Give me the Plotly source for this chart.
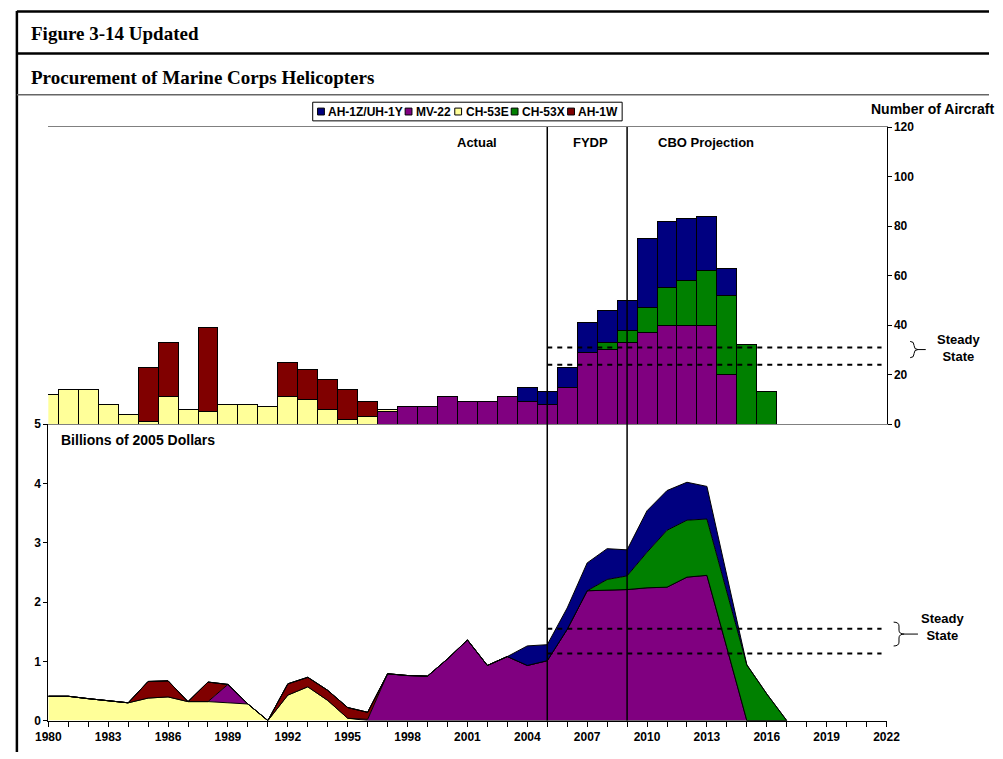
import plotly.graph_objects as go

# ---- data ----
years_top = list(range(1980, 2017))
mv22_units = [0, 0, 0, 0, 0, 0, 0, 0, 0, 0, 0, 0, 0, 0, 0, 0, 0,
              5, 7, 7, 11, 9, 9, 11, 9, 8, 15, 29, 30, 33, 37, 40, 40, 40, 20, 0, 0]
ch53e_units = [12, 14, 14, 8, 4, 1, 11, 6, 5, 8, 8, 7, 11, 10, 6, 2, 3,
               1, 0, 0, 0, 0, 0, 0, 0, 0, 0, 0, 0, 0, 0, 0, 0, 0, 0, 0, 0]
ah1w_units = [0, 0, 0, 0, 0, 22, 22, 0, 34, 0, 0, 0, 14, 12, 12, 12, 6,
              0, 0, 0, 0, 0, 0, 0, 0, 0, 0, 0, 0, 0, 0, 0, 0, 0, 0, 0, 0]
ch53x_units = [0, 0, 0, 0, 0, 0, 0, 0, 0, 0, 0, 0, 0, 0, 0, 0, 0,
               0, 0, 0, 0, 0, 0, 0, 0, 0, 0, 0, 3, 5, 10, 15, 18, 22, 32, 32, 13]
ah1z_units = [0, 0, 0, 0, 0, 0, 0, 0, 0, 0, 0, 0, 0, 0, 0, 0, 0,
              0, 0, 0, 0, 0, 0, 0, 6, 5, 8, 12, 13, 12, 28, 27, 25, 22, 11, 0, 0]

years_cost = list(range(1980, 2018))
ch53e_cost = [0.41, 0.41, 0.37, 0.34, 0.30, 0.38, 0.40, 0.32, 0.32, 0.30, 0.28, 0, 0.43, 0.57, 0.34, 0.04, 0,
              0, 0, 0, 0, 0, 0, 0, 0, 0, 0, 0, 0, 0, 0, 0, 0, 0, 0, 0, 0, 0]
mv22_cost = [0, 0, 0, 0, 0, 0, 0, 0, 0, 0.31, 0, 0, 0, 0, 0, 0, 0.02,
             0.79, 0.76, 0.75, 1.04, 1.36, 0.93, 1.08, 0.93, 1.01, 1.54, 2.19, 2.20, 2.21, 2.24, 2.25, 2.42, 2.45,
             1.23, 0, 0, 0]
ah1w_cost = [0, 0, 0, 0, 0, 0.28, 0.27, 0, 0.33, 0, 0, 0, 0.19, 0.16, 0.17, 0.18, 0.12,
             0, 0, 0, 0, 0, 0, 0, 0, 0, 0, 0, 0, 0, 0, 0, 0, 0, 0, 0, 0, 0]
ch53x_cost = [0] * 28 + [0.18, 0.23, 0.60, 0.96, 0.96, 0.95, 0.95, 0.94, 0.45, 0]
ah1z_cost = [0] * 24 + [0.33, 0.27, 0.36, 0.47, 0.52, 0.44, 0.70, 0.67, 0.64, 0.55, 0.28, 0, 0, 0]

steady_units = [24, 31]
steady_cost = [1.13, 1.55]
period_breaks = [2005, 2009]

colors = {'AH-1Z/UH-1Y': '#000080', 'MV-22': '#800080', 'CH-53E': '#FFFF99',
          'CH-53X': '#008000', 'AH-1W': '#800000'}
legend_order = ['AH-1Z/UH-1Y', 'MV-22', 'CH-53E', 'CH-53X', 'AH-1W']

W, H = 1003, 759
SANS = 'Liberation Sans, Arial, sans-serif'
SERIF = 'Liberation Serif, Times New Roman, serif'


def px(x, y):
    return x / W, 1 - y / H


fig = go.Figure()

# top chart: number of aircraft (stacked bars)
for name, vals in [('MV-22', mv22_units), ('CH-53E', ch53e_units), ('AH-1W', ah1w_units),
                   ('CH-53X', ch53x_units), ('AH-1Z/UH-1Y', ah1z_units)]:
    fig.add_trace(go.Bar(x=years_top, y=vals, width=1, name=name, xaxis='x2', yaxis='y2',
                         marker=dict(color=colors[name], line=dict(color='black', width=1)),
                         showlegend=False))

# bottom chart: billions of dollars (stacked areas)
for name, vals in [('CH-53E', ch53e_cost), ('MV-22', mv22_cost), ('AH-1W', ah1w_cost),
                   ('CH-53X', ch53x_cost), ('AH-1Z/UH-1Y', ah1z_cost)]:
    fig.add_trace(go.Scatter(x=years_cost, y=vals, name=name, stackgroup='cost', mode='lines',
                             line=dict(color='black', width=1), fillcolor=colors[name],
                             showlegend=False))

x_dom = [36.3 / W, 897.7 / W]
bot_dom = [1 - 727 / H, 1 - 425 / H]
top_dom = [1 - 425 / H, 1 - 122.3 / H]
tickfont = dict(family=SANS, size=12, color='black', weight='bold')

fig.update_layout(
    width=W, height=H, margin=dict(l=0, r=0, t=0, b=0), autosize=False,
    paper_bgcolor='white', plot_bgcolor='white', barmode='stack',
    xaxis=dict(domain=x_dom, range=[1980, 2022], anchor='y', tickmode='linear', tick0=1980, dtick=3,
               ticks='outside', ticklen=5, tickcolor='black', showline=True, linecolor='black',
               linewidth=1, showgrid=False, zeroline=False, tickfont=tickfont,
               minor=dict(dtick=1, tick0=1980, ticks='outside', ticklen=5, tickcolor='black')),
    yaxis=dict(domain=bot_dom, range=[0, 5], anchor='x', dtick=1, ticks='outside', ticklen=4,
               tickcolor='black', showline=True, linecolor='black', linewidth=1,
               showgrid=False, zeroline=False, tickfont=tickfont),
    xaxis2=dict(domain=x_dom, range=[1980, 2022], anchor='y2', showticklabels=False, ticks='',
                showline=True, mirror=True, linecolor='#808080', linewidth=1,
                showgrid=False, zeroline=False),
    yaxis2=dict(domain=top_dom, range=[0, 120], anchor='x2', side='right', dtick=20,
                ticks='outside', ticklen=4, tickcolor='black', showline=True, linecolor='black',
                linewidth=1, showgrid=False, zeroline=False, tickfont=tickfont),
)

shapes = []
# frame and header rules
shapes.append(dict(type='line', xref='paper', yref='paper', x0=px(4, 0)[0], x1=1, y0=px(0, 4.5)[1],
                   y1=px(0, 4.5)[1], line=dict(color='black', width=2.5)))
shapes.append(dict(type='line', xref='paper', yref='paper', x0=px(4, 0)[0], x1=px(4, 0)[0], y0=0,
                   y1=px(0, 4)[1], line=dict(color='black', width=2.5)))
shapes.append(dict(type='line', xref='paper', yref='paper', x0=px(4, 0)[0], x1=1, y0=px(0, 47.3)[1],
                   y1=px(0, 47.3)[1], line=dict(color='black', width=2.5)))
shapes.append(dict(type='line', xref='paper', yref='paper', x0=px(4, 0)[0], x1=1, y0=px(0, 89.3)[1],
                   y1=px(0, 89.3)[1], line=dict(color='#666666', width=1.5)))

# period dividers
for yr in period_breaks:
    shapes.append(dict(type='line', xref='x', yref='paper', x0=yr, x1=yr, y0=bot_dom[0], y1=top_dom[1],
                       line=dict(color='black', width=1.5)))

# steady state bands
for v in steady_units:
    shapes.append(dict(type='line', xref='x', yref='y2', x0=2005, x1=2021.75, y0=v, y1=v,
                       line=dict(color='black', width=2, dash='5px,5px')))
for v in steady_cost:
    shapes.append(dict(type='line', xref='x', yref='y', x0=2005, x1=2021.75, y0=v, y1=v,
                       line=dict(color='black', width=2, dash='5px,5px')))


def brace(x0, x1, tail, yt, yb):
    xm = (x0 + x1) / 2
    ym = (yt + yb) / 2
    r = 4
    pts = [('M', x0, yt), ('Q', xm, yt, xm, yt + r), ('L', xm, ym - r), ('Q', xm, ym, x1, ym),
           ('L', tail, ym), ('M', x1, ym), ('Q', xm, ym, xm, ym + r), ('L', xm, yb - r),
           ('Q', xm, yb, x0, yb)]
    d = ''
    for p in pts:
        coords = p[1:]
        out = []
        for i in range(0, len(coords), 2):
            a, b = px(coords[i], coords[i + 1])
            out.append(f'{a:.5f},{b:.5f}')
        d += p[0] + ' ' + ' '.join(out) + ' '
    return dict(type='path', xref='paper', yref='paper', path=d.strip(),
                line=dict(color='black', width=1))


shapes.append(brace(922, 930, 938, 340.7, 357.3))
shapes.append(brace(905, 916, 930, 626.7, 651))

# custom legend box
shapes.append(dict(type='rect', xref='paper', yref='paper', x0=px(308, 0)[0], x1=px(626, 0)[0],
                   y0=px(0, 116)[1], y1=px(0, 97)[1], line=dict(color='black', width=1),
                   fillcolor='white'))

annotations = []
label_w = [74, 35, 42, 42, 38]
lx = 313
for name, w in zip(legend_order, label_w):
    shapes.append(dict(type='rect', xref='paper', yref='paper', x0=px(lx, 0)[0], x1=px(lx + 7, 0)[0],
                       y0=px(0, 110)[1], y1=px(0, 103)[1], line=dict(color='black', width=1),
                       fillcolor=colors[name]))
    annotations.append(dict(xref='paper', yref='paper', x=px(lx + 9, 0)[0], y=px(0, 106.5)[1],
                            xanchor='left', yanchor='middle', showarrow=False, text=name,
                            font=dict(family=SANS, size=12, color='black', weight='bold')))
    lx += 9 + w + 7


def label(text, x, y, size=13, anchor='center', family=SANS):
    annotations.append(dict(xref='paper', yref='paper', x=px(x, 0)[0], y=px(0, y)[1], xanchor=anchor,
                            yanchor='middle', showarrow=False, text=text, align='center',
                            font=dict(family=family, size=size, color='black', weight='bold')))


label('Figure 3-14 Updated', 16, 27.5, size=19, anchor='left', family=SERIF)
label('Procurement of Marine Corps Helicopters', 16, 71.5, size=19, anchor='left', family=SERIF)
label('Number of Aircraft', 880, 104, size=14, anchor='left')
label('Actual', 477, 138)
label('FYDP', 593, 138)
label('CBO Projection', 712, 138)
label('Billions of 2005 Dollars', 47, 441, size=14, anchor='left')
label('Steady<br>State', 972, 347)
label('Steady<br>State', 955, 632)

fig.update_layout(shapes=shapes, annotations=annotations)

# page body margin would otherwise push the 1003x759 figure past the window
fig.write_html('out.html', config={'displayModeBar': False},
               post_script="document.body.style.margin='0';document.body.style.overflow='hidden';")
